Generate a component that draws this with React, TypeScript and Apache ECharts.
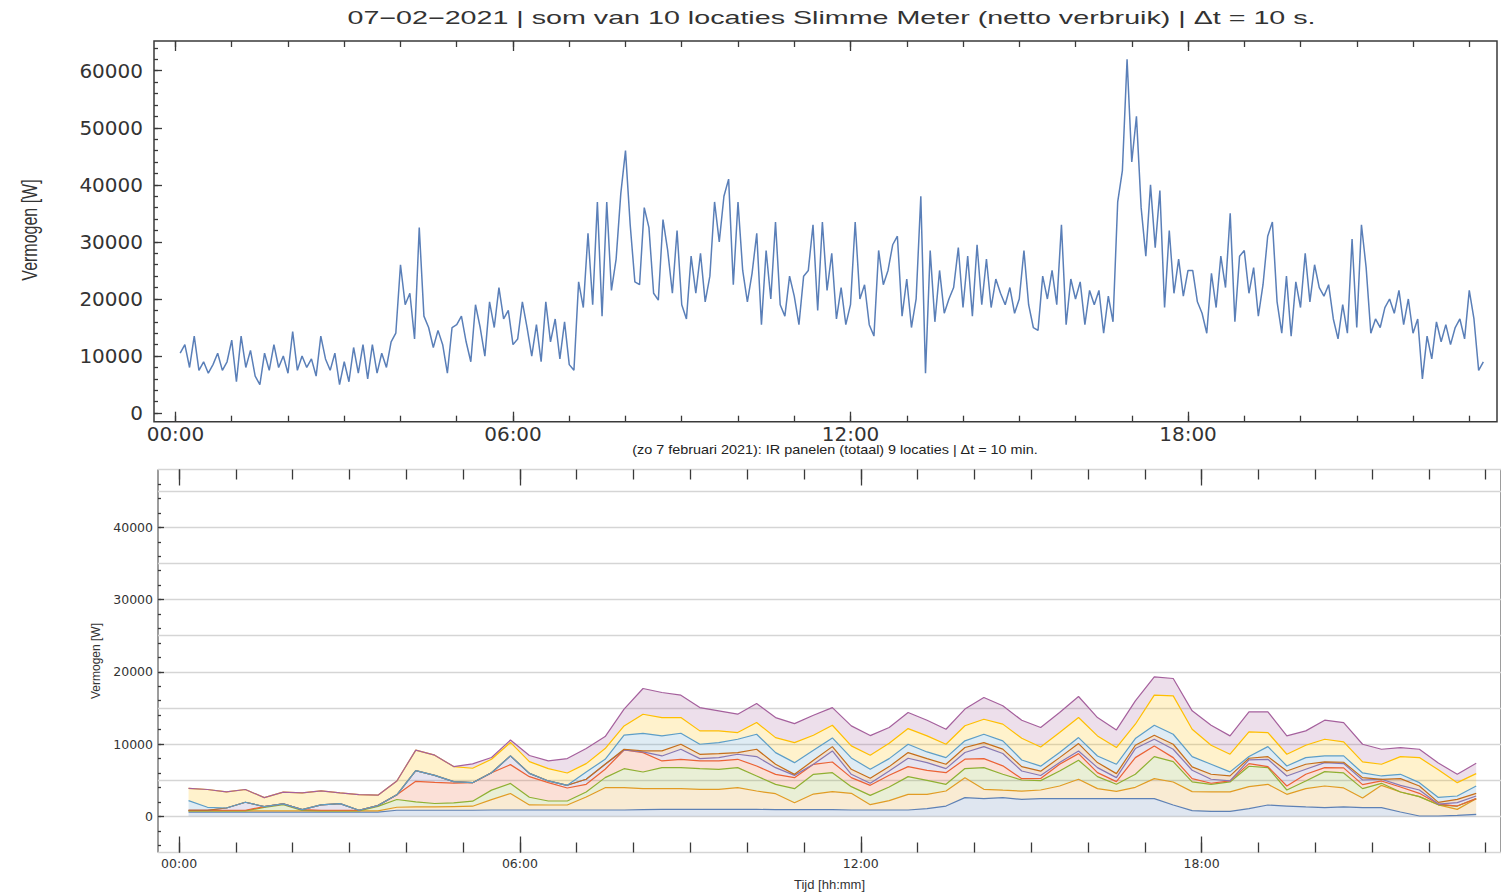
import React, { useEffect, useRef } from "react";
import * as echarts from "echarts";

// ---------- texts ----------
const TITLE_TOP = "07−02−2021 | som van 10 locaties Slimme Meter (netto verbruik) | Δt = 10 s.";
const TITLE_BOTTOM = "(zo 7 februari 2021): IR panelen (totaal) 9 locaties | Δt = 10 min.";
const Y_NAME = "Vermogen [W]";
const X_NAME = "Tijd [hh:mm]";

// ---------- tick values ----------
const HOUR_TICKS = [0, 1, 2, 3, 4, 5, 6, 7, 8, 9, 10, 11, 12, 13, 14, 15, 16, 17, 18, 19, 20, 21, 22, 23];
const HOUR_LABELS = [0, 6, 12, 18];
const TOP_Y_LABELS = [0, 10000, 20000, 30000, 40000, 50000, 60000];
const BOTTOM_Y_LABELS = [0, 10000, 20000, 30000, 40000];

// ---------- top chart: net consumption, one reading every 5 minutes starting 00:05 ----------
const TOP_START_MIN = 5;
const TOP_STEP_MIN = 5;
const usageW = [
  // 00
  10500, 12000, 8000, 13500, 7500, 9000, 7000, 8500, 10500, 7500, 9000, 12800,
  // 01
  5500, 13500, 8000, 11000, 6500, 5000, 10500, 7500, 12000, 8000, 10000, 7000,
  // 02
  14300, 7500, 10000, 8000, 9500, 6500, 13500, 9500, 7500, 10500, 5000, 9000,
  // 03
  5500, 11500, 7000, 12000, 6000, 12000, 7000, 10500, 8000, 12500, 14000, 26000,
  // 04
  19000, 21000, 13000, 32500, 17000, 15000, 11500, 14500, 12000, 7000, 15000, 15500,
  // 05
  17000, 12500, 9000, 19000, 15000, 10000, 19500, 15000, 22000, 16500, 18000, 12000,
  // 06
  13000, 19500, 15000, 10000, 15500, 9000, 19500, 12500, 16500, 9500, 16000, 8500,
  // 07
  7500, 23000, 18500, 31500, 19000, 37000, 17000, 37000, 21500, 27000, 38500, 46000,
  // 08
  33000, 23000, 22500, 36000, 32500, 21000, 19800, 33900, 28500, 21000, 32000, 19000,
  // 09
  16500, 27500, 21000, 28000, 19500, 24000, 37000, 30000, 38000, 41000, 22500, 37000,
  // 10
  25000, 19500, 24500, 31500, 15500, 28500, 20000, 33500, 19000, 17000, 24000, 20500,
  // 11
  15500, 24000, 25000, 33000, 18000, 33500, 21500, 28000, 16500, 22000, 15500, 19000,
  // 12
  33500, 20000, 22500, 15500, 13500, 28500, 22500, 25000, 29500, 31000, 17000, 23500,
  // 13
  15000, 20000, 38000, 7000, 28500, 16000, 25000, 17500, 20000, 22000, 29000, 18500,
  // 14
  27500, 17000, 29500, 19000, 27000, 18500, 23500, 21000, 19000, 22000, 17500, 20000,
  // 15
  28500, 19000, 15000, 14500, 24000, 20000, 25000, 19000, 33000, 15500, 23500, 20000,
  // 16
  23000, 15500, 21500, 19000, 21500, 14000, 20500, 16000, 37000, 42500, 62000, 44000,
  // 17
  52000, 36000, 27500, 40000, 29000, 39000, 18500, 32000, 21000, 27000, 20500, 25000,
  // 18
  25000, 19500, 17500, 14000, 24500, 18500, 27500, 22000, 35000, 16000, 27500, 28500,
  // 19
  21000, 25500, 17000, 22500, 31000, 33500, 19500, 14000, 24000, 13500, 23000, 18500,
  // 20
  28000, 19500, 26000, 22000, 20500, 22500, 16500, 13000, 19000, 14000, 30500, 15000,
  // 21
  33000, 25500, 14000, 16500, 15000, 18500, 20000, 17500, 21500, 15500, 20000, 14000,
  // 22
  16500, 6000, 13500, 9500, 16000, 12500, 15500, 12000, 15000, 16500, 13000, 21500,
  // 23
  16500, 7500, 9000,
];

// ---------- bottom chart: IR panels, 9 locations, one value every 20 minutes starting 00:10 ----------
const IR_START_MIN = 10;
const IR_STEP_MIN = 20;
const irLoc1 = [600, 600, 600, 600, 600, 600, 600, 600, 600, 600, 600, 850, 850, 850, 850, 850, 880, 880, 880, 880, 880, 880, 880, 880, 920, 970, 970, 970, 970, 970, 970, 920, 920, 920, 920, 880, 880, 880, 880, 1060, 1430, 2600, 2450, 2600, 2350, 2450, 2450, 2450, 2450, 2450, 2450, 2450, 1570, 790, 700, 700, 1070, 1570, 1430, 1300, 1200, 1300, 1200, 1200, 600, 50, 50, 140, 280];
const irLoc2 = [150, 150, 150, 150, 150, 150, 150, 150, 150, 150, 150, 415, 460, 460, 510, 555, 1445, 2280, 700, 690, 690, 1800, 3090, 3090, 2910, 2865, 2865, 2770, 2770, 3000, 2540, 2215, 970, 2170, 2495, 2310, 735, 1290, 2170, 1990, 2080, 2730, 1290, 1020, 1155, 1200, 1755, 2680, 1385, 1015, 1570, 2770, 3190, 2635, 2680, 2680, 3045, 2865, 1620, 2540, 3005, 2635, 1340, 3095, 2775, 2675, 1550, 830, 2170];
const irLoc3 = [0, 0, 0, 0, 500, 870, 80, 0, 0, 0, 640, 1070, 700, 470, 510, 695, 1305, 1400, 1070, 555, 555, 690, 1390, 2630, 2310, 2910, 2910, 2865, 2775, 2775, 2080, 1295, 1940, 2725, 2630, 920, 1295, 1895, 2450, 1940, 925, 1290, 3005, 2215, 1525, 1300, 2080, 2630, 1665, 970, 1800, 3050, 2815, 1340, 1060, 1385, 2820, 2310, 600, 1065, 1985, 2075, 1295, 280, 0, 0, 0, 460, 0];
const irLoc4 = [100, 100, 100, 100, 100, 100, 100, 100, 100, 100, 100, 650, 2835, 2930, 2740, 2560, 2415, 2600, 2840, 2545, 1800, 1065, 1155, 2590, 2680, 925, 1155, 1065, 1155, 1155, 1385, 1385, 1525, 1390, 1480, 1250, 1385, 1615, 1385, 1385, 1615, 1295, 1245, 1155, 185, 300, 925, 925, 550, 370, 2310, 1480, 555, 460, 140, 140, 370, 140, 555, 920, 555, 695, 555, 325, 690, 465, 100, 0, 0];
const irLoc5 = [0, 0, 310, 1100, 0, 0, 0, 730, 920, 0, 0, 0, 1490, 970, 190, 0, 0, 1210, 460, 230, 375, 695, 685, 0, 95, 690, 1390, 320, 460, 695, 1300, 925, 320, 0, 1525, 460, 280, 605, 1155, 1065, 555, 925, 1665, 1710, 1065, 400, 230, 370, 695, 555, 1250, 920, 1155, 1155, 555, 0, 510, 1015, 1385, 695, 695, 600, 645, 230, 230, 460, 0, 465, 370];
const irLoc6 = [0, 0, 0, 0, 0, 0, 0, 0, 0, 0, 0, 0, 0, 0, 0, 0, 0, 0, 0, 0, 0, 0, 0, 100, 135, 695, 690, 600, 555, 230, 1010, 465, 140, 550, 600, 695, 690, 600, 785, 550, 605, 690, 555, 600, 600, 600, 690, 1015, 695, 555, 460, 555, 695, 465, 690, 690, 230, 370, 695, 695, 90, 185, 325, 0, 925, 555, 230, 460, 370];
const irLoc7 = [1335, 405, 0, 0, 0, 0, 0, 0, 0, 0, 0, 0, 0, 0, 0, 0, 0, 0, 0, 0, 0, 1015, 700, 1940, 2445, 2080, 1520, 1390, 1525, 1845, 2080, 1615, 1620, 1390, 1205, 1570, 1250, 1105, 1155, 925, 920, 925, 1155, 1155, 925, 700, 695, 835, 920, 1295, 925, 1385, 1385, 1430, 1390, 560, 230, 1385, 690, 920, 830, 875, 650, 460, 600, 460, 690, 465, 1015];
const irLoc8 = [1675, 2465, 2235, 1770, 1250, 1630, 2325, 1955, 1485, 2170, 1440, 1905, 2835, 2790, 2090, 2000, 1855, 1860, 1630, 1710, 1700, 1155, 1480, 1290, 2640, 2540, 2175, 1850, 1620, 925, 1615, 2080, 2770, 2075, 1750, 1665, 1940, 2130, 2170, 2220, 1850, 2080, 2080, 2310, 3000, 2650, 2770, 2770, 2775, 2305, 1985, 4160, 5315, 3790, 2630, 2445, 3420, 1940, 1620, 1710, 2310, 1940, 1520, 1620, 2450, 3465, 3835, 1845, 1710];
const irLoc9 = [0, 0, 0, 0, 0, 0, 0, 0, 0, 0, 0, 0, 0, 0, 0, 600, 240, 330, 840, 1060, 2000, 2080, 1660, 2310, 3560, 3465, 3095, 3230, 2770, 2545, 2635, 2770, 2635, 2775, 2450, 2770, 2725, 2170, 2220, 2170, 2080, 2310, 3005, 2540, 2495, 2700, 2775, 2910, 2540, 2450, 3235, 2540, 2400, 2540, 2770, 2540, 2770, 2865, 2540, 1985, 2635, 2680, 2450, 2075, 1245, 1155, 925, 1155, 1430];
const IR_SERIES = [irLoc1, irLoc2, irLoc3, irLoc4, irLoc5, irLoc6, irLoc7, irLoc8, irLoc9];
const IR_COLORS = ["#5E81B5", "#E19C24", "#8FB032", "#EB6235", "#8778B3", "#C56E1A", "#5D9EC7", "#FFBF00", "#A5609D"];

// ---------- styling ----------
const FRAME = "#3a3a3a";
const TEXT = "#333333";
const TOP_LINE = "#5A7FB8";

const TOP_X = [-0.382, 23.493];
const TOP_Y = [-1500, 65200];
const BOT_X = [-0.371, 23.27];
const BOT_Y = [-5000, 48000];

const TOP_Y_MINOR: number[] = [];
for (let v = 0; v <= 64000; v += 2000) TOP_Y_MINOR.push(v);
const BOT_Y_MINOR: number[] = [];
for (let v = -4000; v <= 46000; v += 2000) BOT_Y_MINOR.push(v);

const hourFmt = (v: number) => String(Math.round(v)).padStart(2, "0") + ":00";

function textWidth(text: string, font: string): number {
  const ctx = document.createElement("canvas").getContext("2d");
  if (!ctx) return text.length * 8;
  ctx.font = font;
  return ctx.measureText(text).width;
}

function tickAxis(gridIndex: number, range: number[], position: string, values: number[], length: number, extra: any = {}) {
  return {
    gridIndex,
    type: "value",
    min: range[0],
    max: range[1],
    position,
    axisLine: { show: false, onZero: false },
    splitLine: { show: false },
    axisTick: { show: true, inside: true, length, customValues: values, lineStyle: { color: FRAME, width: 1.3 } },
    axisLabel: { show: false },
    ...extra,
  };
}

export default function App() {
  const ref = useRef<HTMLDivElement>(null);

  useEffect(() => {
    if (!ref.current) return;
    const chart = echarts.init(ref.current, undefined, { renderer: "svg" });

    const titleFont = '18px "Liberation Sans", Arial, sans-serif';
    const titleScale = 969 / textWidth(TITLE_TOP, titleFont);
    const subFont = '13px "Liberation Sans", Arial, sans-serif';
    const subScale = 406 / textWidth(TITLE_BOTTOM, subFont);

    const topData = usageW.map((v, i) => [(TOP_START_MIN + i * TOP_STEP_MIN) / 60, v]);

    // value first, time second: keeps ECharts stacking on the power dimension
    const irSeries = IR_SERIES.map((arr, s) => ({
      type: "line",
      name: "locatie " + (s + 1),
      xAxisIndex: 4,
      yAxisIndex: 2,
      stack: "ir",
      symbol: "none",
      showSymbol: false,
      encode: { x: 1, y: 0 },
      data: arr.map((v, i) => [v, (IR_START_MIN + i * IR_STEP_MIN) / 60]),
      lineStyle: { color: IR_COLORS[s], width: 1.2 },
      areaStyle: { color: IR_COLORS[s], opacity: 0.2 },
      itemStyle: { color: IR_COLORS[s] },
    }));

    const labelTop = { fontFamily: "DejaVu Sans", fontSize: 20, color: TEXT };
    const labelBot = { fontFamily: "DejaVu Sans", fontSize: 12.5, color: TEXT };

    chart.setOption({
      animation: false,
      backgroundColor: "#ffffff",
      grid: [
        { left: 154, top: 41, width: 1343, height: 380.7, show: true, borderColor: FRAME, borderWidth: 1.5, backgroundColor: "transparent" },
        { left: 158, top: 469.5, width: 1356, height: 383, show: true, borderColor: FRAME, borderWidth: 1, backgroundColor: "transparent" },
      ],
      xAxis: [
        // top chart
        tickAxis(0, TOP_X, "bottom", HOUR_TICKS, 6, {
          axisLabel: { show: true, customValues: HOUR_LABELS, formatter: hourFmt, margin: 2, ...labelTop },
        }),
        tickAxis(0, TOP_X, "bottom", HOUR_LABELS, 10),
        tickAxis(0, TOP_X, "top", HOUR_TICKS, 6),
        tickAxis(0, TOP_X, "top", HOUR_LABELS, 10),
        // bottom chart
        tickAxis(1, BOT_X, "bottom", HOUR_TICKS, 10, {
          axisLabel: { show: true, customValues: HOUR_LABELS, formatter: hourFmt, margin: 4, ...labelBot },
          name: X_NAME,
          nameLocation: "middle",
          nameGap: 25,
          nameTextStyle: { fontFamily: "Liberation Sans", fontSize: 13, color: TEXT },
        }),
        tickAxis(1, BOT_X, "bottom", HOUR_LABELS, 16),
        tickAxis(1, BOT_X, "top", HOUR_TICKS, 10),
        tickAxis(1, BOT_X, "top", HOUR_LABELS, 16),
      ],
      yAxis: [
        // top chart
        tickAxis(0, TOP_Y, "left", TOP_Y_MINOR, 4, {
          axisLabel: { show: true, customValues: TOP_Y_LABELS, formatter: (v: number) => String(v), margin: 11, ...labelTop },
        }),
        tickAxis(0, TOP_Y, "left", TOP_Y_LABELS, 8),
        // bottom chart
        {
          gridIndex: 1,
          type: "value",
          min: BOT_Y[0],
          max: BOT_Y[1],
          interval: 5000,
          position: "left",
          axisLine: { show: false, onZero: false },
          axisTick: { show: false },
          splitLine: { show: true, lineStyle: { color: "#d5d5d5", width: 1.3 } },
          axisLabel: {
            show: true,
            margin: 5,
            ...labelBot,
            formatter: (v: number) => (BOTTOM_Y_LABELS.indexOf(v) >= 0 ? String(v) : ""),
          },
          name: Y_NAME,
          nameLocation: "middle",
          nameRotate: 90,
          nameGap: 56,
          nameTextStyle: { fontFamily: "Liberation Sans", fontSize: 12, color: TEXT },
        },
        tickAxis(1, BOT_Y, "left", BOT_Y_MINOR, 3),
        tickAxis(1, BOT_Y, "left", BOTTOM_Y_LABELS, 6),
      ],
      series: [
        {
          type: "line",
          name: "netto verbruik",
          xAxisIndex: 0,
          yAxisIndex: 0,
          symbol: "none",
          showSymbol: false,
          data: topData,
          lineStyle: { color: TOP_LINE, width: 1.5 },
          itemStyle: { color: TOP_LINE },
        },
        ...irSeries,
      ],
      graphic: [
        {
          type: "text",
          x: 831.5,
          y: 18,
          scaleX: titleScale,
          style: { text: TITLE_TOP, font: titleFont, fill: TEXT, textAlign: "center", verticalAlign: "middle" },
        },
        {
          type: "text",
          x: 29,
          y: 230,
          rotation: Math.PI / 2,
          scaleY: 1.4,
          style: { text: Y_NAME, font: '16px "Liberation Sans", Arial, sans-serif', fill: TEXT, textAlign: "center", verticalAlign: "middle" },
        },
        {
          type: "text",
          x: 835,
          y: 450,
          scaleX: subScale,
          style: { text: TITLE_BOTTOM, font: subFont, fill: "#222222", textAlign: "center", verticalAlign: "middle" },
        },
      ],
    });

    return () => chart.dispose();
  }, []);

  return (
    <div
      ref={ref}
      style={{ position: "absolute", left: 0, top: 0, width: 1501, height: 892, background: "#fff" }}
    />
  );
}
